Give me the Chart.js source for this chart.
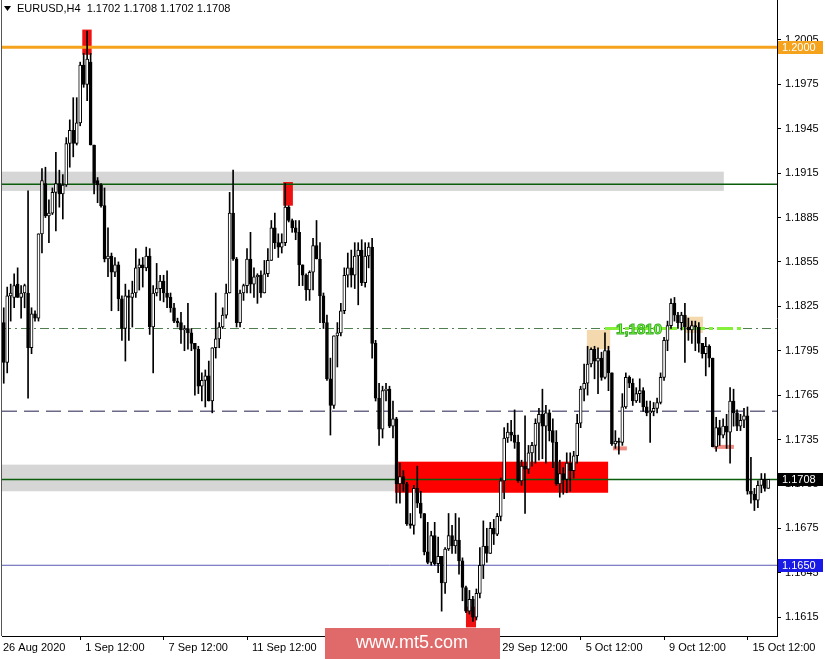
<!DOCTYPE html>
<html><head><meta charset="utf-8">
<script src="https://cdn.jsdelivr.net/npm/chart.js@4/dist/chart.umd.min.js"></script>
<style>html,body{margin:0;padding:0;background:#fff;overflow:hidden}canvas{display:block}</style>
</head><body>
<canvas id="c" width="825" height="659"></canvas>
<script>
// ---- data (EURUSD H4) ----
const opens=[1.1814,1.1787,1.1832,1.1831,1.1840,1.1831,1.1834,1.1834,1.1797,1.1820,
1.1817,1.1874,1.1908,1.1886,1.1888,1.1902,1.1908,1.1901,1.1907,1.1935,
1.1944,1.1935,1.1949,1.1988,1.1975,1.1990,1.1934,1.1910,1.1907,1.1893,
1.1857,1.1859,1.1848,1.1853,1.1830,1.1810,1.1832,1.1831,1.1834,1.1851,
1.1853,1.1851,1.1859,1.1811,1.1834,1.1837,1.1842,1.1834,1.1831,1.1824,
1.1815,1.1814,1.1809,1.1810,1.1807,1.1800,1.1796,1.1771,1.1775,1.1778,
1.1761,1.1797,1.1803,1.1811,1.1819,1.1834,1.1888,1.1857,1.1814,1.1834,
1.1839,1.1857,1.1840,1.1845,1.1846,1.1834,1.1847,1.1856,1.1878,1.1868,
1.1865,1.1868,1.1892,1.1883,1.1878,1.1875,1.1853,1.1846,1.1836,1.1848,
1.1866,1.1857,1.1832,1.1814,1.1776,1.1758,1.1805,1.1807,1.1822,1.1846,
1.1851,1.1846,1.1859,1.1863,1.1841,1.1859,1.1865,1.1800,1.1763,1.1742,
1.1768,1.1769,1.1744,1.1749,1.1705,1.1710,1.1705,1.1678,1.1677,1.1702,
1.1692,1.1685,1.1659,1.1652,1.1670,1.1651,1.1656,1.1638,1.1661,1.1670,
1.1663,1.1667,1.1653,1.1635,1.1619,1.1627,1.1615,1.1631,1.1650,1.1663,
1.1658,1.1675,1.1671,1.1683,1.1707,1.1736,1.1740,1.1738,1.1733,1.1707,
1.1717,1.1715,1.1726,1.1731,1.1746,1.1752,1.1744,1.1753,1.1741,1.1733,
1.1705,1.1712,1.1708,1.1719,1.1714,1.1724,1.1746,1.1769,1.1773,1.1786,
1.1796,1.1788,1.1790,1.1777,1.1795,1.1780,1.1732,1.1734,1.1733,1.1757,
1.1777,1.1773,1.1761,1.1766,1.1768,1.1757,1.1753,1.1754,1.1756,1.1760,
1.1777,1.1802,1.1812,1.1827,1.1819,1.1814,1.1819,1.1811,1.1809,1.1812,
1.1811,1.1800,1.1793,1.1798,1.1790,1.1730,1.1743,1.1738,1.1744,1.1740,
1.1761,1.1753,1.1744,1.1748,1.1751,1.1700,1.1698,1.1694,1.1704,1.1708,
1.1702];
const highs=[1.1824,1.1838,1.1840,1.1847,1.1851,1.1839,1.1840,1.1903,1.1824,1.1822,
1.1874,1.1918,1.1919,1.1897,1.1905,1.1929,1.1917,1.1914,1.1939,1.1951,
1.1966,1.1966,1.1990,1.1996,1.2011,1.1996,1.1934,1.1912,1.1908,1.1905,
1.1878,1.1861,1.1858,1.1855,1.1832,1.1840,1.1836,1.1842,1.1864,1.1857,
1.1858,1.1865,1.1864,1.1839,1.1854,1.1846,1.1846,1.1849,1.1834,1.1827,
1.1817,1.1821,1.1812,1.1827,1.1810,1.1800,1.1798,1.1780,1.1782,1.1788,
1.1797,1.1834,1.1814,1.1824,1.1840,1.1902,1.1917,1.1858,1.1836,1.1840,
1.1864,1.1875,1.1851,1.1847,1.1849,1.1856,1.1864,1.1883,1.1888,1.1874,
1.1874,1.1908,1.1893,1.1884,1.1883,1.1883,1.1853,1.1847,1.1849,1.1871,
1.1883,1.1868,1.1834,1.1819,1.1790,1.1805,1.1814,1.1827,1.1851,1.1861,
1.1863,1.1868,1.1868,1.1870,1.1868,1.1868,1.1871,1.1802,1.1773,1.1771,
1.1773,1.1771,1.1761,1.1750,1.1719,1.1714,1.1706,1.1685,1.1704,1.1717,
1.1700,1.1685,1.1679,1.1673,1.1679,1.1669,1.1656,1.1662,1.1685,1.1677,
1.1685,1.1682,1.1655,1.1636,1.1633,1.1629,1.1634,1.1662,1.1680,1.1675,
1.1679,1.1681,1.1685,1.1709,1.1743,1.1746,1.1748,1.1755,1.1738,1.1721,
1.1751,1.1731,1.1733,1.1749,1.1756,1.1769,1.1758,1.1755,1.1749,1.1741,
1.1721,1.1716,1.1726,1.1726,1.1727,1.1752,1.1771,1.1786,1.1798,1.1797,
1.1798,1.1797,1.1794,1.1807,1.1798,1.1780,1.1741,1.1736,1.1766,1.1780,
1.1778,1.1776,1.1770,1.1776,1.1770,1.1761,1.1761,1.1760,1.1763,1.1780,
1.1804,1.1815,1.1830,1.1831,1.1821,1.1821,1.1827,1.1817,1.1815,1.1815,
1.1814,1.1800,1.1804,1.1799,1.1790,1.1750,1.1748,1.1749,1.1752,1.1770,
1.1769,1.1755,1.1752,1.1756,1.1757,1.1723,1.1702,1.1707,1.1712,1.1712,
1.1708];
const lows=[1.1773,1.1780,1.1815,1.1824,1.1831,1.1817,1.1824,1.1763,1.1793,1.1815,
1.1815,1.1861,1.1885,1.1868,1.1887,1.1876,1.1892,1.1884,1.1906,1.1919,
1.1926,1.1934,1.1947,1.1973,1.1964,1.1934,1.1901,1.1895,1.1892,1.1855,
1.1845,1.1822,1.1845,1.1822,1.1802,1.1788,1.1802,1.1811,1.1831,1.1836,
1.1838,1.1849,1.1806,1.1780,1.1832,1.1829,1.1828,1.1824,1.1821,1.1814,
1.1811,1.1800,1.1795,1.1796,1.1795,1.1765,1.1766,1.1761,1.1757,1.1761,
1.1753,1.1790,1.1797,1.1810,1.1817,1.1834,1.1856,1.1811,1.1811,1.1829,
1.1834,1.1834,1.1831,1.1827,1.1831,1.1834,1.1845,1.1856,1.1864,1.1858,
1.1861,1.1866,1.1882,1.1875,1.1870,1.1839,1.1839,1.1829,1.1829,1.1836,
1.1857,1.1814,1.1810,1.1775,1.1738,1.1756,1.1784,1.1805,1.1820,1.1838,
1.1838,1.1837,1.1826,1.1839,1.1838,1.1851,1.1790,1.1761,1.1731,1.1736,
1.1761,1.1743,1.1736,1.1692,1.1692,1.1700,1.1677,1.1675,1.1671,1.1689,
1.1682,1.1657,1.1651,1.1650,1.1650,1.1645,1.1619,1.1631,1.1660,1.1658,
1.1658,1.1644,1.1626,1.1618,1.1617,1.1612,1.1613,1.1628,1.1641,1.1652,
1.1658,1.1664,1.1670,1.1680,1.1695,1.1733,1.1734,1.1729,1.1706,1.1704,
1.1685,1.1712,1.1717,1.1719,1.1721,1.1722,1.1719,1.1734,1.1716,1.1704,
1.1696,1.1698,1.1699,1.1700,1.1709,1.1719,1.1743,1.1761,1.1765,1.1784,
1.1776,1.1766,1.1775,1.1776,1.1768,1.1731,1.1729,1.1725,1.1731,1.1756,
1.1770,1.1758,1.1760,1.1760,1.1754,1.1751,1.1733,1.1751,1.1753,1.1759,
1.1775,1.1795,1.1810,1.1815,1.1810,1.1809,1.1787,1.1802,1.1800,1.1795,
1.1794,1.1790,1.1778,1.1784,1.1730,1.1727,1.1731,1.1736,1.1729,1.1719,
1.1744,1.1741,1.1741,1.1743,1.1698,1.1692,1.1687,1.1689,1.1699,1.1700,
1.1702];
const closes=[1.1787,1.1832,1.1834,1.1839,1.1831,1.1834,1.1839,1.1797,1.1820,1.1817,
1.1874,1.1910,1.1886,1.1888,1.1902,1.1908,1.1901,1.1907,1.1935,1.1944,
1.1935,1.1949,1.1988,1.1975,1.1992,1.1934,1.1908,1.1907,1.1893,1.1857,
1.1859,1.1848,1.1853,1.1830,1.1810,1.1832,1.1831,1.1834,1.1851,1.1853,
1.1851,1.1859,1.1811,1.1834,1.1837,1.1842,1.1834,1.1831,1.1824,1.1815,
1.1814,1.1809,1.1810,1.1807,1.1800,1.1796,1.1771,1.1775,1.1778,1.1761,
1.1797,1.1803,1.1811,1.1819,1.1834,1.1888,1.1857,1.1814,1.1834,1.1839,
1.1857,1.1840,1.1845,1.1846,1.1834,1.1847,1.1856,1.1878,1.1868,1.1865,
1.1868,1.1892,1.1883,1.1878,1.1875,1.1853,1.1846,1.1836,1.1848,1.1866,
1.1857,1.1832,1.1814,1.1776,1.1758,1.1805,1.1807,1.1822,1.1846,1.1851,
1.1846,1.1859,1.1863,1.1841,1.1859,1.1865,1.1800,1.1763,1.1742,1.1768,
1.1769,1.1744,1.1749,1.1705,1.1710,1.1705,1.1678,1.1677,1.1702,1.1692,
1.1685,1.1659,1.1652,1.1670,1.1651,1.1656,1.1638,1.1661,1.1670,1.1663,
1.1667,1.1653,1.1635,1.1619,1.1627,1.1615,1.1631,1.1650,1.1663,1.1658,
1.1675,1.1671,1.1683,1.1707,1.1736,1.1740,1.1738,1.1733,1.1707,1.1717,
1.1715,1.1726,1.1731,1.1746,1.1752,1.1744,1.1753,1.1741,1.1733,1.1705,
1.1712,1.1708,1.1719,1.1714,1.1724,1.1746,1.1769,1.1773,1.1786,1.1796,
1.1788,1.1790,1.1777,1.1795,1.1780,1.1732,1.1734,1.1733,1.1757,1.1777,
1.1773,1.1761,1.1766,1.1768,1.1757,1.1753,1.1754,1.1756,1.1760,1.1777,
1.1802,1.1812,1.1827,1.1819,1.1814,1.1819,1.1811,1.1809,1.1812,1.1811,
1.1800,1.1793,1.1798,1.1790,1.1730,1.1743,1.1738,1.1744,1.1740,1.1761,
1.1753,1.1744,1.1748,1.1751,1.1700,1.1698,1.1694,1.1704,1.1708,1.1702,
1.1708];

// price-axis tick labels and time-axis tick labels
const yTickValues=[1.2005,1.1975,1.1945,1.1915,1.1885,1.1855,1.1825,1.1795,1.1765,1.1735,1.1705,1.1675,1.1645,1.1615];
const xFirstLabel='26 Aug 2020';
const xTickIndex=[22,46,70,94,118,142,166,190,214];
const xTickLabels=['1 Sep 12:00','7 Sep 12:00','11 Sep 12:00','17 Sep 12:00','23 Sep 12:00','29 Sep 12:00','5 Oct 12:00','9 Oct 12:00','15 Oct 12:00'];

// price levels of the drawn objects
const level2000=1.2000, levelUpper=1.19075, levelDashDot=1.1810, levelDashed=1.1754, levelCurrent=1.1708, levelBlue=1.1650;
const headerText='EURUSD,H4  1.1702 1.1708 1.1702 1.1708';

// categories: H4 bars, weekdays only, plus two empty slots on the right
const categories=[];
(function(){
  const M=['Jan','Feb','Mar','Apr','May','Jun','Jul','Aug','Sep','Oct','Nov','Dec'];
  let t=Date.UTC(2020,7,26,20);
  while(categories.length<opens.length+2){
    const d=new Date(t), wd=d.getUTCDay();
    if(wd!==0&&wd!==6){categories.push(d.getUTCDate()+' '+M[d.getUTCMonth()]+' '+String(d.getUTCHours()).padStart(2,'0')+':00');}
    t+=4*3600e3;
  }
})();

const FONT='"Liberation Sans", Arial, sans-serif';

const overlay={
  id:'overlay',
  beforeDatasetsDraw(chart){
    const {ctx,chartArea:a,scales:{x,y}}=chart;
    ctx.save();
    ctx.beginPath();ctx.rect(a.left,a.top,a.right-a.left,a.bottom-a.top);ctx.clip();
    const X=i=>x.getPixelForValue(i), Y=p=>y.getPixelForValue(p);
    const rect=(i0,i1,p0,p1,col)=>{const x0=X(i0),x1=X(i1),y0=Y(p1),y1=Y(p0);ctx.fillStyle=col;ctx.fillRect(x0,y0,x1-x0,y1-y0);};
    // grey bands
    rect(-0.6,207.2,1.1903,1.1916,'#d6d6d6');
    rect(-0.6,112.6,1.1700,1.1718,'#d6d6d6');
    // red zone
    rect(112.6,173.9,1.1699,1.1720,'#ff0000');
    // red markers
    rect(22.6,25.3,1.1995,1.2012,'#ee1111');
    rect(80.4,83.2,1.1893,1.1909,'#ee1111');
    rect(133.0,135.9,1.1608,1.1622,'#ee1111');
    // tan boxes
    rect(167.8,174.5,1.1796,1.1809,'rgba(242,210,160,0.85)');
    rect(196.0,201.2,1.1807,1.1818,'rgba(242,210,160,0.85)');
    const hline=(p,col,w,dash,x0,x1)=>{ctx.beginPath();ctx.setLineDash(dash||[]);ctx.strokeStyle=col;ctx.lineWidth=w;const yy=Y(p);ctx.moveTo(x0===undefined?a.left:x0,yy);ctx.lineTo(x1===undefined?a.right:x1,yy);ctx.stroke();};
    hline(levelUpper,'#0b5d0b',1.6);
    hline(levelDashDot,'#4f7f4f',1,[9,4,2,4]);
    hline(levelDashed,'#6a6a88',1.5,[15,7]);
    hline(levelCurrent,'#0b5d0b',1.6);
    hline(levelBlue,'#5a5ab4',1);
    // salmon short lines
    hline(1.1729,'#f08a80',4,[],X(175.3),X(179.3));
    hline(1.1730,'#f08a80',4,[],X(204.3),X(210.1));
    // bright green segment
    hline(levelDashDot,'#84f03a',3,[16,4,4,4],X(173),X(212.5));
    // orange level
    hline(level2000,'#f5a21c',3);
    ctx.restore();
  },
  afterDraw(chart){
    const {ctx,chartArea:a,scales:{x,y}}=chart;
    const X=i=>x.getPixelForValue(i), Y=p=>y.getPixelForValue(p);
    ctx.save();
    // left frame line
    ctx.strokeStyle='#555';ctx.lineWidth=1;ctx.beginPath();ctx.moveTo(1.5,0);ctx.lineTo(1.5,a.bottom);ctx.stroke();
    // green label
    ctx.font='bold 15px '+FONT;ctx.textBaseline='middle';ctx.textAlign='left';
    ctx.lineWidth=1;ctx.strokeStyle='#3fae2a';ctx.fillStyle='#7dff45';
    ctx.fillText('1,1810',X(176.2),Y(levelDashDot)+1);ctx.strokeText('1,1810',X(176.2),Y(levelDashDot)+1);
    // price tags
    const tag=(p,bg,txt)=>{const yy=Math.round(Y(p));ctx.fillStyle=bg;ctx.fillRect(778,yy-6,45,13);ctx.fillStyle='#fff';ctx.font='11px '+FONT;ctx.textAlign='left';ctx.textBaseline='middle';ctx.fillText(txt,782,yy+1);};
    tag(level2000,'#f5a21c','1.2000');
    tag(levelCurrent,'#000000','1.1708');
    tag(levelBlue,'#1a1ae6','1.1650');
    // time labels
    ctx.fillStyle='#000';ctx.font='11px '+FONT;ctx.textAlign='left';ctx.textBaseline='middle';
    ctx.fillText(xFirstLabel,a.left+1,648);
    xTickIndex.forEach((idx,k)=>ctx.fillText(xTickLabels[k],X(idx)+5,648));
    // header
    ctx.fillStyle='#000';ctx.beginPath();ctx.moveTo(4,6);ctx.lineTo(11,6);ctx.lineTo(7.5,11);ctx.closePath();ctx.fill();
    ctx.font='11px '+FONT;ctx.textBaseline='middle';ctx.fillText(headerText,17,9);
    // watermark
    ctx.fillStyle='#e06a6a';ctx.fillRect(325,628,175,31);
    ctx.fillStyle='#fff';ctx.font='18px '+FONT;ctx.textAlign='center';ctx.fillText('www.mt5.com',412,643);
    ctx.restore();
  }
};

const wickData=lows.map((l,i)=>[l,highs[i]]);
const bodyData=opens.map((o,i)=>[Math.min(o,closes[i]),Math.max(o,closes[i])]);
const bodyFill=opens.map((o,i)=>closes[i]>=o?'#ffffff':'#000000');

new Chart(document.getElementById('c'),{
  type:'bar',
  data:{labels:categories,datasets:[
    {label:'body',data:bodyData,backgroundColor:bodyFill,borderColor:'#000',borderWidth:1,borderSkipped:false,barThickness:3,minBarLength:1,grouped:false,order:0},
    {label:'wick',data:wickData,backgroundColor:'#000',borderWidth:0,barThickness:1,grouped:false,order:1}
  ]},
  options:{
    responsive:false,animation:false,devicePixelRatio:1,
    layout:{padding:{left:2,top:0,right:0,bottom:0}},
    plugins:{legend:{display:false},tooltip:{enabled:false},title:{display:false}},
    scales:{
      x:{type:'category',offset:true,
        afterBuildTicks:s=>{s.ticks=xTickIndex.map(v=>({value:v}));},
        afterFit:s=>{s.height=23;s.paddingLeft=0;s.paddingRight=0;},
        ticks:{display:false},
        grid:{drawOnChartArea:false,drawTicks:true,tickLength:4,tickColor:'#000',offset:false},
        border:{display:true,color:'#000',width:1}},
      y:{type:'linear',position:'right',min:1.16022,max:1.2032,
        afterBuildTicks:s=>{s.ticks=yTickValues.map(v=>({value:v}));},
        afterFit:s=>{s.width=48;s.paddingTop=0;s.paddingBottom=0;},
        ticks:{callback:v=>Number(v).toFixed(4),color:'#000',font:{family:FONT,size:11},padding:4},
        grid:{drawOnChartArea:false,drawTicks:true,tickLength:4,tickColor:'#000'},
        border:{display:true,color:'#000',width:1}}
    }
  },
  plugins:[overlay]
});
</script>
</body></html>
